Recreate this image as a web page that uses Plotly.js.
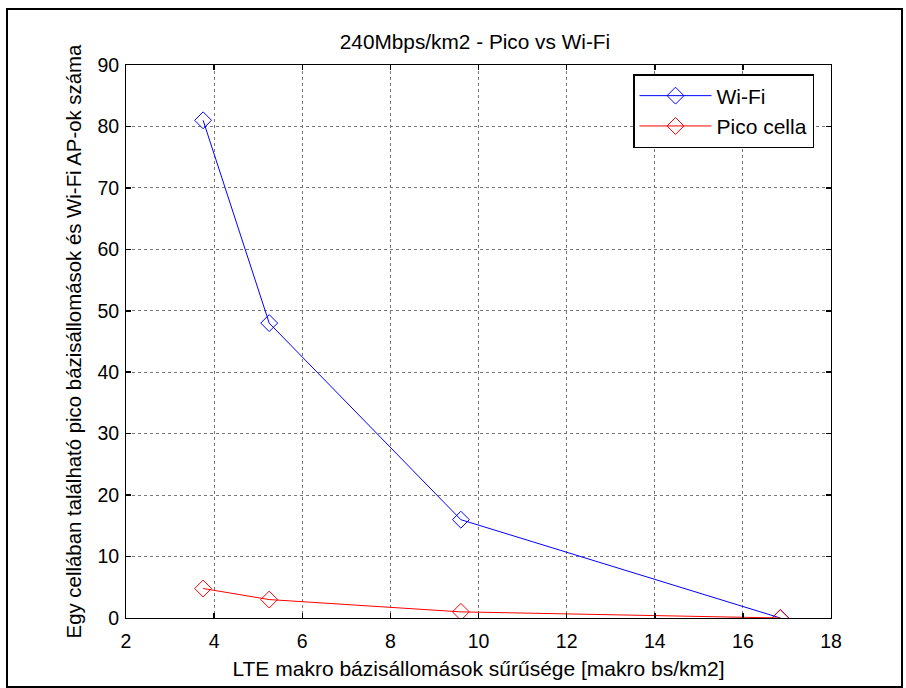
<!DOCTYPE html>
<html>
<head>
<meta charset="utf-8">
<script src="https://cdn.plot.ly/plotly-3.0.1.min.js"></script>
<style>
html,body{margin:0;padding:0;background:#fff;}
#chart{width:906px;height:688px;}
</style>
</head>
<body>
<div id="chart"></div>
<script>
const xValues = [3.75, 5.25, 9.6, 16.85];
const wifiValues = [81, 48, 16, 0];
const picoValues = [4.8, 3, 1, 0];
const xTicks = [2, 4, 6, 8, 10, 12, 14, 16, 18];
const yTicks = [0, 10, 20, 30, 40, 50, 60, 70, 80, 90];

const L = 126, R = 831, T = 65, B = 618, W = 906, H = 688;
const pw = R - L, ph = B - T;
const font = {family: 'Liberation Sans, Arial, sans-serif', color: '#000'};

const traces = [
  {x: xValues, y: wifiValues, name: 'Wi-Fi', mode: 'lines+markers', type: 'scatter',
   line: {color: '#0000ff', width: 1}, marker: {symbol: 'diamond-open', size: 13, color: '#0000ff', line: {width: 1}}},
  {x: xValues, y: picoValues, name: 'Pico cella', mode: 'lines+markers', type: 'scatter',
   line: {color: '#ff0000', width: 1}, marker: {symbol: 'diamond-open', size: 13, color: '#ff0000', line: {width: 1}}}
];

const axisCommon = {
  showline: true, linecolor: '#000', linewidth: 1, mirror: 'ticks',
  ticks: 'inside', ticklen: 5, tickcolor: '#000', tickwidth: 1.5,
  showgrid: true, gridcolor: '#777', griddash: 'dot', gridwidth: 1,
  zeroline: false, tickfont: Object.assign({size: 19.5}, font)
};

const layout = {
  width: W, height: H,
  margin: {l: L, r: W - R, t: T, b: H - B, pad: 0},
  paper_bgcolor: '#fff', plot_bgcolor: '#fff',
  title: {text: '240Mbps/km2 - Pico vs Wi-Fi', font: Object.assign({size: 20.8}, font), x: 475 / W, xanchor: 'center', y: 1 - 42 / H, yanchor: 'middle'},
  xaxis: Object.assign({}, axisCommon, {range: [2, 18], tickvals: xTicks, ticktext: xTicks.map(String),
    ticklabelstandoff: 6,
    title: {text: 'LTE makro bázisállomások sűrűsége [makro bs/km2]', font: Object.assign({size: 21}, font), standoff: 9}}),
  yaxis: Object.assign({}, axisCommon, {range: [0, 90], tickvals: yTicks, ticktext: yTicks.map(String),
    ticklabelstandoff: 2,
    title: {text: 'Egy cellában található pico bázisállomások és Wi-Fi AP-ok száma', font: Object.assign({size: 20.4}, font), standoff: 10}}),
  showlegend: true,
  legend: {x: (633 - L) / pw, y: (B - 74) / ph, xanchor: 'left', yanchor: 'top',
    bgcolor: '#fff', bordercolor: '#000', borderwidth: 1.5, itemwidth: 72,
    font: Object.assign({size: 21}, font), tracegroupgap: 0},
  shapes: [{type: 'rect', xref: 'paper', yref: 'paper',
    x0: (7 - L) / pw, x1: (902 - L) / pw, y0: (B - 687) / ph, y1: (B - 9) / ph,
    line: {color: '#000', width: 2}, fillcolor: 'rgba(0,0,0,0)', layer: 'below'}]
};

Plotly.newPlot('chart', traces, layout, {displayModeBar: false, staticPlot: true});
</script>
</body>
</html>
